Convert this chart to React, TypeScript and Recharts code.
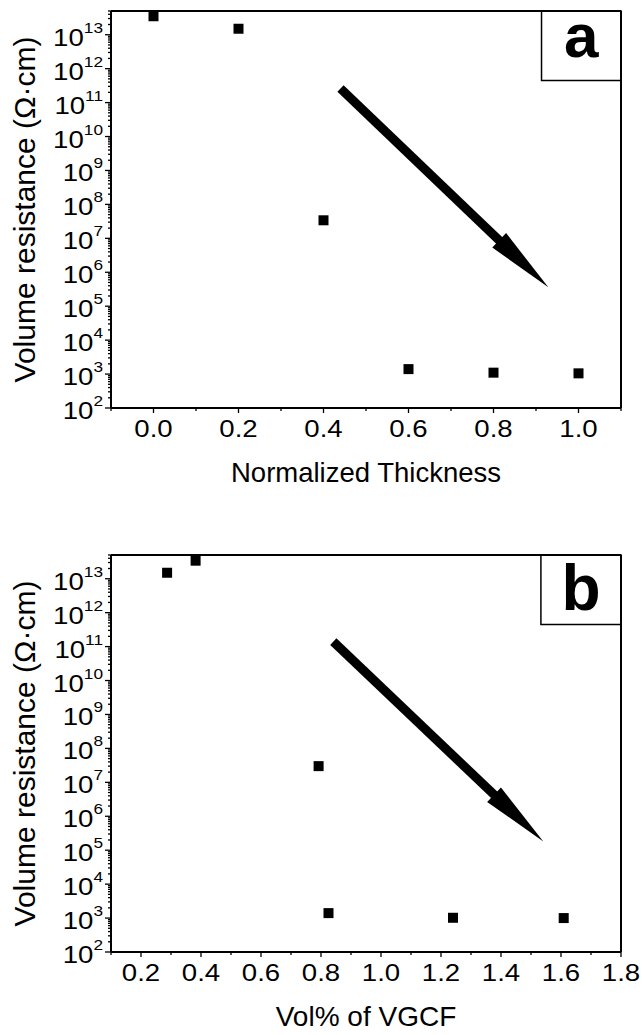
import React from "react";
import { ScatterChart, Scatter, XAxis, YAxis, ReferenceLine, ReferenceArea } from "recharts";

// panel a: resistance vs normalized thickness
const THICKNESS = [0.0, 0.2, 0.4, 0.6, 0.8, 1.0];
const THICKNESS_RES = [3.5e13, 1.5e13, 3.4e7, 1.4e3, 1.1e3, 1.05e3];

// panel b: resistance vs VGCF content
const VGCF = [0.287, 0.382, 0.792, 0.825, 1.24, 1.609];
const VGCF_RES = [1.5e13, 3.4e13, 3.0e7, 1.4e3, 1.02e3, 1.0e3];

const X_MAJOR_A = [0.0, 0.2, 0.4, 0.6, 0.8, 1.0];
const X_MINOR_A = [-0.1, 0.1, 0.3, 0.5, 0.7, 0.9, 1.1];
const X_MAJOR_B = [0.2, 0.4, 0.6, 0.8, 1.0, 1.2, 1.4, 1.6, 1.8];
const X_MINOR_B = [0.1, 0.3, 0.5, 0.7, 0.9, 1.1, 1.3, 1.5, 1.7];

const Y_EXPONENTS = [2, 3, 4, 5, 6, 7, 8, 9, 10, 11, 12, 13];
const Y_MINOR_STEPS = [2, 3, 4, 5, 6, 7, 8, 9];
const Y_DOMAIN: [number, number] = [1e2, 5e13];

const FONT = "'Liberation Sans', Arial, sans-serif";

const Y_MAJOR = Y_EXPONENTS.map((e) => Math.pow(10, e));
const Y_MINOR = Y_EXPONENTS.flatMap((e) => Y_MINOR_STEPS.map((m) => m * Math.pow(10, e))).filter(
    (v) => v <= Y_DOMAIN[1] * 1.0001
);
const Y_TICKS = [...Y_MAJOR, ...Y_MINOR].sort((a, b) => a - b);

const isMajorY = (v: number) => Y_MAJOR.some((m) => Math.abs(m - v) / m < 1e-6);

const YTick = (props: any) => {
    const { x, y, payload } = props;
    const v = payload.value;
    const major = isMajorY(v);
    const exp = Math.round(Math.log10(v));
    return (
        <g>
            <line x1={x - (major ? 6 : 3)} x2={x} y1={y} y2={y} stroke="#000" strokeWidth={1.3} />
            {major && (
                <text
                    transform={`translate(${x - 8},${y + 11}) scale(1.15,1)`}
                    textAnchor="end"
                    fontFamily={FONT}
                    fontSize={24}
                    fill="#000"
                >
                    10
                    <tspan dy={-13} fontSize={15}>
                        {exp}
                    </tspan>
                </text>
            )}
        </g>
    );
};

const makeXTick = (majors: number[]) => (props: any) => {
    const { x, y, payload } = props;
    const v = payload.value;
    const major = majors.some((m) => Math.abs(m - v) < 1e-6);
    return (
        <g>
            <line x1={x} x2={x} y1={y} y2={y + (major ? 5 : 3)} stroke="#000" strokeWidth={1.3} />
            {major && (
                <text
                    transform={`translate(${x},${y + 29}) scale(1.15,1)`}
                    textAnchor="middle"
                    fontFamily={FONT}
                    fontSize={24}
                    fill="#000"
                >
                    {v.toFixed(1)}
                </text>
            )}
        </g>
    );
};

// thick arrow drawn along a reference segment
const Arrow = (props: any) => {
    const { x1, y1, x2, y2 } = props;
    const dx = x2 - x1;
    const dy = y2 - y1;
    const len = Math.sqrt(dx * dx + dy * dy);
    const ux = dx / len;
    const uy = dy / len;
    const headLen = 68;
    const halfW = 10;
    const bx = x2 - ux * headLen;
    const by = y2 - uy * headLen;
    const pts = [
        [x2, y2],
        [bx - uy * halfW, by + ux * halfW],
        [bx + uy * halfW, by - ux * halfW],
    ]
        .map((p) => p.join(","))
        .join(" ");
    return (
        <g>
            <line x1={x1} y1={y1} x2={bx + ux * 2} y2={by + uy * 2} stroke="#000" strokeWidth={9} />
            <polygon points={pts} fill="#000" />
        </g>
    );
};

type PanelProps = {
    xs: number[];
    ys: number[];
    xDomain: [number, number];
    xMajor: number[];
    xMinor: number[];
    xTitle: string;
    xTitleSize: number;
    arrow: [{ x: number; y: number }, { x: number; y: number }];
    boxX: number;
    boxY: number;
    letter: string;
    letterSize: number;
    letterBaseline: number;
    top: number;
};

function Panel(p: PanelProps) {
    const data = p.xs.map((x, i) => ({ x, y: p.ys[i] }));
    const xTicks = [...p.xMajor, ...p.xMinor].sort((a, b) => a - b);
    return (
        <div style={{ position: "absolute", left: 0, top: p.top }}>
            <ScatterChart width={642} height={491} margin={{ top: 11, right: 21, bottom: 0, left: 0 }}>
                <XAxis
                    type="number"
                    dataKey="x"
                    domain={p.xDomain}
                    allowDataOverflow
                    ticks={xTicks}
                    interval={0}
                    tick={makeXTick(p.xMajor)}
                    tickLine={false}
                    tickSize={0}
                    tickMargin={0}
                    height={83}
                    axisLine={{ stroke: "#000", strokeWidth: 2 }}
                    label={(lp: any) => {
                        const vb = lp.viewBox;
                        return (
                            <text
                                x={vb.x + vb.width / 2}
                                y={vb.y + 74}
                                textAnchor="middle"
                                fontFamily={FONT}
                                fontSize={p.xTitleSize}
                                fill="#000"
                            >
                                {p.xTitle}
                            </text>
                        );
                    }}
                />
                <YAxis
                    type="number"
                    dataKey="y"
                    scale="log"
                    domain={Y_DOMAIN}
                    allowDataOverflow
                    ticks={Y_TICKS}
                    interval={0}
                    tick={YTick}
                    tickLine={false}
                    tickSize={0}
                    tickMargin={0}
                    width={111}
                    axisLine={{ stroke: "#000", strokeWidth: 2 }}
                    label={(lp: any) => {
                        const vb = lp.viewBox;
                        const cy = vb.y + vb.height / 2;
                        return (
                            <text
                                transform={`translate(35,${cy}) rotate(-90)`}
                                textAnchor="middle"
                                fontFamily={FONT}
                                fontSize={30}
                                fill="#000"
                            >
                                Volume resistance (Ω·cm)
                            </text>
                        );
                    }}
                />
                <ReferenceLine y={Y_DOMAIN[1]} stroke="#000" strokeWidth={2} />
                <ReferenceLine x={p.xDomain[1]} stroke="#000" strokeWidth={2} />
                <ReferenceLine segment={p.arrow} shape={Arrow} />
                <ReferenceArea
                    x1={p.boxX}
                    x2={p.xDomain[1]}
                    y1={p.boxY}
                    y2={Y_DOMAIN[1]}
                    fill="#fff"
                    fillOpacity={1}
                    stroke="#000"
                    strokeWidth={1.5}
                    label={(lp: any) => {
                        const vb = lp.viewBox;
                        return (
                            <text
                                x={vb.x + vb.width / 2}
                                y={vb.y + p.letterBaseline}
                                textAnchor="middle"
                                fontFamily={FONT}
                                fontWeight="bold"
                                fontSize={p.letterSize}
                                fill="#000"
                            >
                                {p.letter}
                            </text>
                        );
                    }}
                />
                <Scatter
                    data={data}
                    fill="#000"
                    isAnimationActive={false}
                    shape={(sp: any) => <rect x={sp.cx - 5} y={sp.cy - 5} width={10} height={10} fill="#000" />}
                />
            </ScatterChart>
        </div>
    );
}

export default function App() {
    return (
        <div
            style={{
                position: "absolute",
                left: 0,
                top: 0,
                width: 642,
                height: 1035,
                background: "#fff",
            }}
        >
            <Panel
                xs={THICKNESS}
                ys={THICKNESS_RES}
                xDomain={[-0.1, 1.1]}
                xMajor={X_MAJOR_A}
                xMinor={X_MINOR_A}
                xTitle="Normalized Thickness"
                xTitleSize={27.5}
                arrow={[
                    { x: 0.44, y: 2.6e11 },
                    { x: 0.929, y: 3.6e5 },
                ]}
                boxX={0.913}
                boxY={4.5e11}
                letter="a"
                letterSize={62}
                letterBaseline={46}
                top={0}
            />
            <Panel
                xs={VGCF}
                ys={VGCF_RES}
                xDomain={[0.1, 1.8]}
                xMajor={X_MAJOR_B}
                xMinor={X_MINOR_B}
                xTitle="Vol% of VGCF"
                xTitleSize={28}
                arrow={[
                    { x: 0.841, y: 1.4e11 },
                    { x: 1.541, y: 1.8e5 },
                ]}
                boxX={1.533}
                boxY={4.5e11}
                letter="b"
                letterSize={64}
                letterBaseline={55}
                top={544}
            />
        </div>
    );
}
